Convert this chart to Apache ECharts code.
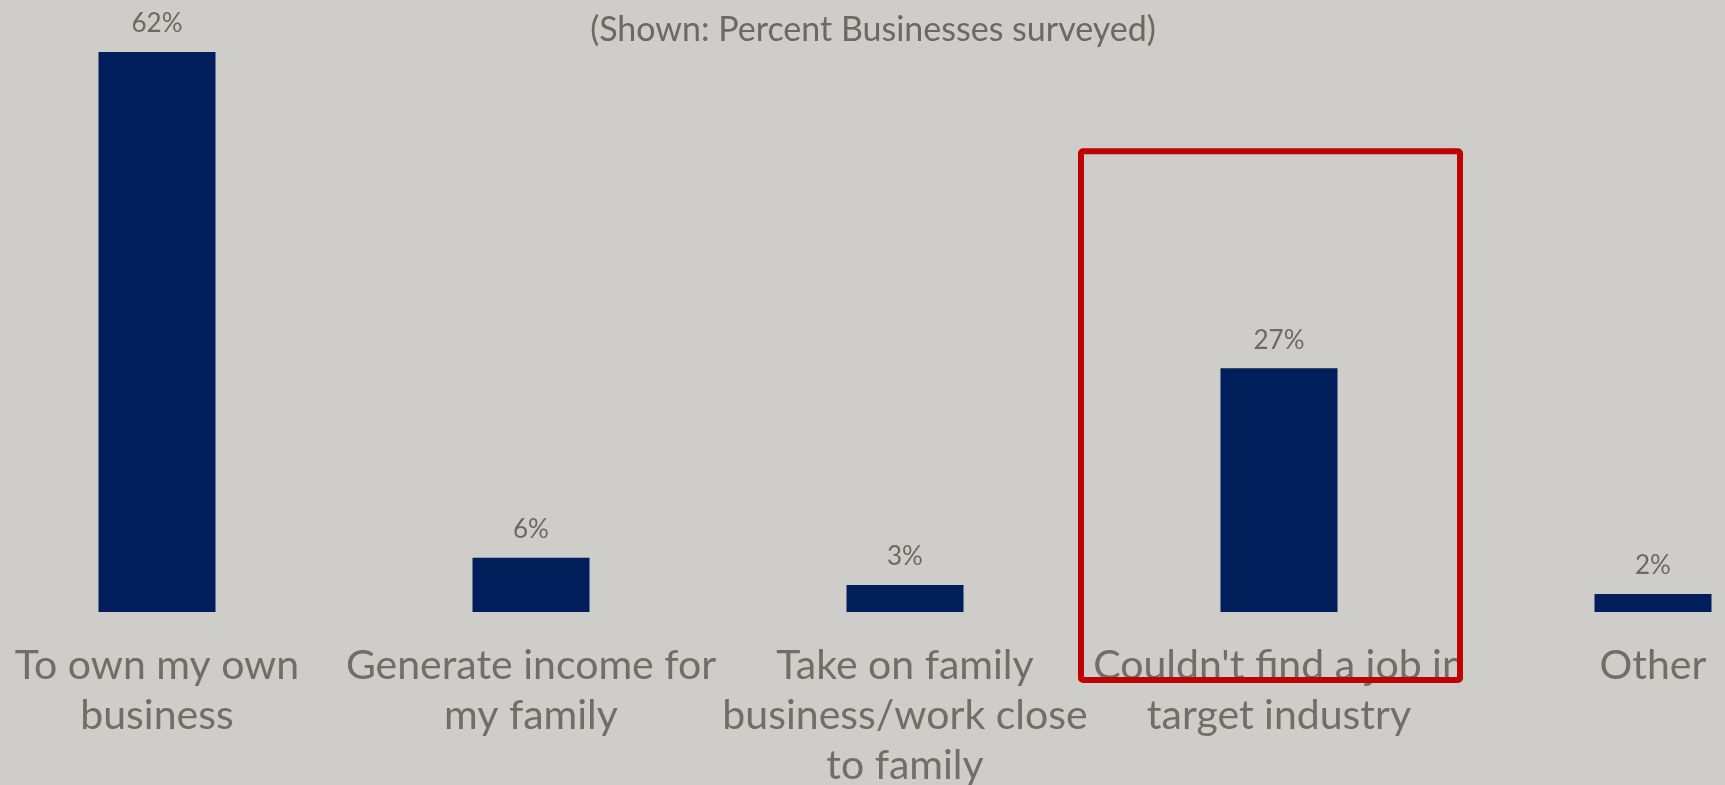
<!DOCTYPE html>
<html>
<head>
<meta charset="utf-8">
<style>
  html, body { margin: 0; padding: 0; background: #CECDC9; }
  #chart { width: 1725px; height: 785px; }
</style>
<script src="https://cdn.jsdelivr.net/npm/echarts@6/dist/echarts.min.js"></script>
</head>
<body>
<div id="chart"></div>
<script>
// Reasons for starting a business, share of businesses surveyed
const categories = [
  'To own my own\nbusiness',
  'Generate income for\nmy family',
  'Take on family\nbusiness/work close\nto family',
  "Couldn't find a job in\ntarget industry",
  'Other'
];
const percentValues = [62, 6, 3, 27, 2];
const subtitleText = '(Shown: Percent Businesses surveyed)';
const highlightIndex = 3;

const chart = echarts.init(document.getElementById('chart'));

chart.setOption({
  backgroundColor: '#CECDC9',
  animation: false,
  title: {
    text: subtitleText,
    left: 868,
    top: 8,
    textAlign: 'center',
    textStyle: {
      fontFamily: 'Lato',
      fontWeight: 'normal',
      fontSize: 34,
      color: '#6E6865'
    }
  },
  // category ticks sit at the bar centres; the outer bars reach past the grid edge
  grid: { left: 157, top: 52, width: 1496, height: 560, outerBoundsMode: 'none' },
  xAxis: {
    type: 'category',
    data: categories,
    boundaryGap: false,
    axisLine: { show: false },
    axisTick: { show: false },
    axisLabel: {
      interval: 0,
      margin: 29,
      fontFamily: 'Lato',
      fontSize: 41,
      lineHeight: 50,
      color: '#6F6F66'
    }
  },
  yAxis: {
    type: 'value',
    min: 0,
    max: 62,
    show: false,
    splitLine: { show: false }
  },
  series: [{
    type: 'bar',
    data: percentValues,
    barWidth: 117,
    clip: false,
    itemStyle: { color: '#001F5B' },
    label: {
      show: true,
      position: 'top',
      distance: 15,
      formatter: '{c}%',
      fontFamily: 'Lato',
      fontSize: 26,
      color: '#6E6865'
    }
  }]
});

// Red frame around the highlighted category, placed from the axis scales
const cx = chart.convertToPixel({ xAxisIndex: 0 }, highlightIndex);
const yTop = chart.convertToPixel({ yAxisIndex: 0 }, 51);
const yBase = chart.convertToPixel({ yAxisIndex: 0 }, 0);
const boxLeft = cx - 198;
const boxRight = cx + 181;
const boxBottom = yBase + 68;

chart.setOption({
  graphic: [{
    type: 'rect',
    z: 100,
    shape: { x: boxLeft, y: yTop, width: boxRight - boxLeft, height: boxBottom - yTop, r: 2 },
    style: { fill: 'none', stroke: '#C00000', lineWidth: 6, lineJoin: 'round' }
  }]
});
</script>
</body>
</html>
